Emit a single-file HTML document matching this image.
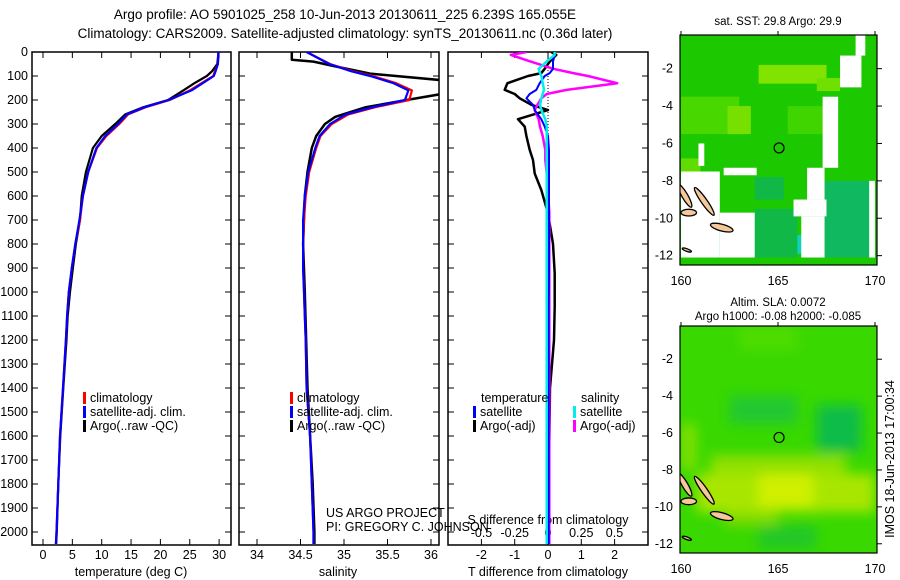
<!DOCTYPE html>
<html><head><meta charset="utf-8"><style>
body{margin:0;background:#fff;width:900px;height:580px;overflow:hidden}
svg{display:block;font-family:"Liberation Sans",sans-serif}
text{fill:#000}
</style></head><body>
<svg id="fig" width="900" height="580" viewBox="0 0 900 580">
<text x="345" y="19" font-size="13.5" text-anchor="middle">Argo profile: AO 5901025_258 10-Jun-2013 20130611_225 6.239S 165.055E</text>
<text x="345" y="38" font-size="13.5" text-anchor="middle">Climatology: CARS2009. Satellite-adjusted climatology: synTS_20130611.nc (0.36d later)</text>
<defs><filter id="blur" x="-5%" y="-5%" width="110%" height="110%"><feGaussianBlur stdDeviation="6"/></filter></defs>
<g id="g"></g>
</svg>
<script>
// ---- data ----
const depthTicks=[0,100,200,300,400,500,600,700,800,900,1000,1100,1200,1300,1400,1500,1600,1700,1800,1900,2000];
const tempTicks=[0,5,10,15,20,25,30];
const salTicks=[34,34.5,35,35.5,36];
const tdiffTicks=[-2,-1,0,1,2];
const sdiffTicks=[-0.5,-0.25,0,0.25,0.5];
const sdiffTickLabels=["-0.5","-0.25","0","0.25","0.5"];
const latTicks=[-2,-4,-6,-8,-10,-12];
const lonTicks=[160,165,170];

const profDepth=[0,50,80,100,130,160,200,230,260,300,350,400,500,600,700,800,900,1000,1100,1200,1400,1600,1800,2000,2050];
const tempClim=[29.9,29.8,29.3,29,27,25,21.6,17.5,14.5,13,10.8,9.2,7.7,6.8,6.3,5.5,4.9,4.4,4.1,3.9,3.4,2.9,2.6,2.3,2.2];
const tempSat=[29.9,29.8,29.4,29.1,27.2,25.3,21.4,17.3,14.3,12.8,10.6,9.1,7.7,6.8,6.2,5.5,4.9,4.4,4.1,3.9,3.4,2.9,2.6,2.3,2.2];
const tempArgo=[29.9,29.7,28.8,27.9,25.8,23.9,21.3,17.1,14.0,12.3,10.0,8.5,7.3,6.6,6.3,5.6,5.1,4.6,4.2,4.0,3.45,2.95,2.6,2.35,2.25];
const salClim=[34.57,34.84,35.1,35.33,35.6,35.78,35.75,35.36,35.05,34.86,34.73,34.68,34.6,34.56,34.54,34.53,34.53,34.54,34.55,34.56,34.57,34.61,34.63,34.65,34.65];
const salSat=[34.57,34.83,35.08,35.3,35.57,35.74,35.7,35.33,35.02,34.84,34.72,34.67,34.59,34.55,34.53,34.53,34.53,34.54,34.55,34.56,34.57,34.61,34.63,34.65,34.65];
const argoSalDepth=[0,32,40,60,90,120,170,200,230,270,300,350,400,500,600,800,1000,1400,1600,1800,2000,2050];
const argoSal=[34.40,34.40,34.65,34.9,35.3,36.2,36.2,35.72,35.25,34.9,34.78,34.68,34.63,34.58,34.55,34.53,34.55,34.58,34.61,34.64,34.66,34.66];
const diffDepth=[0,12,40,70,88,100,130,158,175,193,220,242,280,311,350,408,450,506,575,672,800,922,1060,1200,1400,1500,1700,1900,2050];
const tdiffArgo=[0.1,0.25,0.05,-0.1,-0.2,-0.6,-1.22,-1.3,-1.0,-0.85,-0.5,0,-0.9,-0.7,-0.65,-0.55,-0.45,-0.4,-0.2,0,0.15,0.2,0.2,0.18,0.06,0.05,0.03,0.02,0.02];
const tdiffSat=[0.2,0.2,0.15,0.15,0.05,-0.1,-0.25,-0.35,-0.55,-0.65,-0.45,-0.4,-0.2,-0.1,0,0.03,0.03,0.03,0.03,0.03,0.03,0.03,0.02,0.02,0.02,0.02,0.02,0.02,0.02];
const sdiffArgo=[-0.16,-0.28,-0.13,0.04,0.19,0.3,0.52,0.14,-0.01,-0.05,-0.08,-0.1,-0.07,-0.06,-0.04,-0.02,-0.02,-0.01,0,0.01,0.01,0.01,0.01,0.01,0.01,0.01,0.01,0.01,0.01];
const sdiffSat=[0.05,0.05,-0.01,-0.07,-0.06,-0.05,-0.04,-0.03,-0.04,-0.05,-0.06,-0.05,-0.02,-0.01,-0.01,-0.01,-0.01,-0.01,-0.01,-0.01,-0.01,-0.01,-0.01,-0.01,-0.01,-0.01,-0.01,-0.01,-0.01];

const NS="http://www.w3.org/2000/svg";
const G=document.getElementById('g');
function mk(tag,attrs,parent){const e=document.createElementNS(NS,tag);for(const k in attrs)e.setAttribute(k,attrs[k]);(parent||G).appendChild(e);return e;}
function txt(s,x,y,anchor,size,parent){const t=mk('text',{x:x,y:y,'text-anchor':anchor||'middle','font-size':size||12.5},parent);t.textContent=s;return t;}

const TOP=52,PB=545;
const yD=d=>TOP+d*0.24;
const panels=[
 {name:'temperature',x0:32,x1:231,f:v=>43+v*5.87},
 {name:'salinity',x0:239,x1:439,f:v=>257+(v-34)*87},
 {name:'difference',x0:448,x1:648,f:v=>548+v*33.3}
];
const sx=v=>548+v*133;

panels.forEach((p,i)=>{
  const r=mk('rect',{x:p.x0,y:TOP,width:p.x1-p.x0,height:PB-TOP,fill:'none',stroke:'#000','stroke-width':1.5});
  
  
  depthTicks.forEach(d=>{
    const y=yD(d);
    const t1=mk('line',{x1:p.x0,x2:p.x0+6,y1:y,y2:y,stroke:'#000'});
    
    
    const t2=mk('line',{x1:p.x1-6,x2:p.x1,y1:y,y2:y,stroke:'#000'});
    
    
    if(i===0){const l=txt(String(d),28,y+4,'end',12.5);
      
      }
  });
});
function xticks(vals,labels,f,ylab,name,topTicks){
  vals.forEach((v,k)=>{
    const x=f(v);
    const a=mk('line',{x1:x,x2:x,y1:PB,y2:PB-6,stroke:'#000'});
    
    
    if(topTicks){const b=mk('line',{x1:x,x2:x,y1:TOP,y2:TOP+6,stroke:'#000'});
      
      }
    const l=txt(labels?labels[k]:String(v),x,ylab,'middle',12.5);
    
    
  });
}
xticks(tempTicks,null,panels[0].f,559,'temperature',true);
xticks(salTicks,null,panels[1].f,559,'salinity',true);
xticks(tdiffTicks,null,panels[2].f,559,'t-difference',true);
sdiffTicks.forEach((v,k)=>{
  const l=txt(sdiffTickLabels[k],sx(v),537,'middle',12.5);
  
  
});
[['temperature (deg C)',131,'temperature-axis-title'],['salinity',338,'salinity-axis-title'],['T difference from climatology',548,'t-difference-axis-title']].forEach(a=>{
  const l=txt(a[0],a[1],576,'middle',12.5);
  
  
});
{const l=txt('S difference from climatology',548,524,'middle',12.5);
 
 }

const defs=document.querySelector('defs');
panels.forEach((p,i)=>{const c=mk('clipPath',{id:'c'+i},defs);mk('rect',{x:p.x0,y:TOP,width:p.x1-p.x0,height:PB-TOP},c);});

function line(depths,vals,f,color,w,clip,name){
  const pts=depths.map((d,k)=>f(vals[k]).toFixed(1)+','+yD(d).toFixed(1)).join(' ');
  const pl=mk('polyline',{points:pts,fill:'none',stroke:color,'stroke-width':w,'clip-path':'url(#c'+clip+')','stroke-linejoin':'round'});
  
  
}
line(profDepth,tempArgo,panels[0].f,'#000',2.2,0,'temperature-argo-line');
line(profDepth,tempClim,panels[0].f,'#f00',2.2,0,'temperature-climatology-line');
line(profDepth,tempSat,panels[0].f,'#00f',2.2,0,'temperature-satellite-line');
line(argoSalDepth,argoSal,panels[1].f,'#000',2.5,1,'salinity-argo-line');
line(profDepth,salClim,panels[1].f,'#f00',2.2,1,'salinity-climatology-line');
line(profDepth,salSat,panels[1].f,'#00f',2.2,1,'salinity-satellite-line');
{const z=mk('line',{x1:548,x2:548,y1:TOP,y2:yD(380),stroke:'#000','stroke-dasharray':'1,2'});
 
 }
line(diffDepth,tdiffArgo,panels[2].f,'#000',2.5,2,'t-difference-argo-line');
line(diffDepth,sdiffArgo,sx,'#f0f',2.5,2,'s-difference-argo-line');
line(diffDepth,tdiffSat,panels[2].f,'#00f',2,2,'t-difference-satellite-line');
line(diffDepth,sdiffSat,sx,'#0ee',2.5,2,'s-difference-satellite-line');

function leg(x,y,color,label,name){
  const r=mk('rect',{x:x,y:y-10,width:3,height:12,fill:color});
  
  
  const t=txt(label,x+7,y,'start',12.5);
  
  
}
[[32,0],[239,1]].forEach(a=>{const x=a[0]+51;
  leg(x,402,'#f00','climatology','legend-climatology');
  leg(x,416,'#00f','satellite-adj. clim.','legend-satellite-adj');
  leg(x,430,'#000','Argo(..raw -QC)','legend-argo');});
{const t=txt('temperature',481,402,'start',12.5);}
{const t=txt('salinity',581,402,'start',12.5);}
leg(473,416,'#00f','satellite','legend-t-satellite');
leg(473,430,'#000','Argo(-adj)','legend-t-argo');
leg(573,416,'#0ee','satellite','legend-s-satellite');
leg(573,430,'#f0f','Argo(-adj)','legend-s-argo');
{const t=txt('US ARGO PROJECT',326,517,'start',12.5);}
{const t=txt('PI: GREGORY C. JOHNSON',326,531,'start',12.5);}

// ---- maps ----
function map(top,bottom,title1,title2,kind){
  const X0=680,X1=877;
  const lx=v=>681+(v-160)*19.4;
  const ly=v=>top+(bottom-top)*((-v-0.2)/12.3);
  const cp=mk('clipPath',{id:'m'+kind},defs);mk('rect',{x:X0,y:top,width:X1-X0,height:bottom-top},cp);
  const grp=mk('g',{'clip-path':'url(#m'+kind+')'});
  
  
  const bg=mk('rect',{x:X0,y:top,width:X1-X0,height:bottom-top,fill:kind==='sst'?'#1cc800':'#38d800'},grp);
  
  
  const soft=mk('g',kind==='sla'?{filter:'url(#blur)'}:{},grp);
  const cell=(a,b,c,d,col,nm,par)=>{const r=mk('rect',{x:lx(a),y:ly(b),width:lx(c)-lx(a),height:ly(d)-ly(b),fill:col},par||grp);
    };
  if(kind==='sst'){
    cell(160,-3.5,163,-5.5,'#48d800','sst-warm-patch');
    cell(164,-1.8,167.5,-2.8,'#80e400','sst-warm-patch');
    cell(167,-2.5,168.2,-3.2,'#70e000','sst-warm-patch');
    cell(162.4,-4,163.6,-5.5,'#78e000','sst-warm-patch');
    cell(165.5,-4,168,-5.5,'#40d400','sst-warm-patch');
    cell(160,-6.8,161,-7.5,'#60dc00','sst-warm-patch');
    cell(163.8,-7.8,165.3,-9,'#10b848','sst-cool-patch');
    cell(163.8,-9.5,166,-12.1,'#10b848','sst-cool-patch');
    cell(162.6,-10.3,163.8,-12.1,'#10b870','sst-cool-patch');
    cell(167.4,-8,169.7,-12.1,'#10b860','sst-cool-patch');
    cell(166,-10.9,167,-11.9,'#10d0c0','sst-cyan-patch');
    cell(161,-11.8,162.2,-12.1,'#10b8e8','sst-cyan-patch');
    cell(169,-0.2,169.5,-1.3,'#fff','sst-missing');
    cell(168.2,-1.3,169.3,-3,'#fff','sst-missing');
    cell(167.3,-3.5,168.1,-7.3,'#fff','sst-missing');
    cell(166.5,-7.3,167.4,-9,'#fff','sst-missing');
    cell(160,-7.5,162,-12.1,'#fff','sst-missing');
    cell(162,-9.7,163.8,-12.1,'#fff','sst-missing');
    cell(162.2,-7.3,163.9,-7.7,'#fff','sst-missing');
    cell(165.8,-9,167.5,-9.9,'#fff','sst-missing');
    cell(166.2,-9.9,167.4,-12.1,'#fff','sst-missing');
    cell(169.7,-8,170,-12.1,'#fff','sst-missing');
    cell(160.9,-6,161.2,-7.2,'#fff','sst-missing');
  } else {
    cell(161.5,-7.2,168.5,-8.2,'#90e000','sla-yellow-band',soft);
    cell(160.8,-8.2,170,-10.3,'#a8e600','sla-yellow-band',soft);
    cell(164,-8.2,166.8,-10,'#d0f000','sla-yellow-core',soft);
    cell(162.2,-10.3,165,-11,'#80dc00','sla-yellow-band',soft);
    cell(160,-5.5,160.8,-8,'#80e000','sla-yellow-band',soft);
    cell(167,-4.5,169.3,-7,'#10bc48','sla-low-patch',soft);
    cell(162.5,-4,166,-5.5,'#20c830','sla-low-patch',soft);
    cell(164,-11,167,-12.3,'#20c828','sla-low-patch',soft);
    cell(163,-0.2,166,-1.5,'#50dc00','sla-high-patch',soft);
  }
  [[160.2,-8.8,0.15,0.7,-30],[161.2,-9.1,0.15,0.9,-35],[160.4,-9.7,0.4,0.18,0],[162.1,-10.5,0.6,0.18,15],[160.3,-11.7,0.25,0.07,20]].forEach(L=>{
    const e=mk('ellipse',{cx:lx(L[0]),cy:ly(L[1]),rx:L[2]*19.4,ry:L[3]*18.7,fill:'#f5c89a',stroke:'#000','stroke-width':1.3,transform:'rotate('+L[4]+' '+lx(L[0])+' '+ly(L[1])+')'},grp);
    
    
  });
  const f=mk('rect',{x:X0,y:top,width:X1-X0,height:bottom-top,fill:'none',stroke:'#000','stroke-width':1.2});
  
  
  const c=mk('circle',{cx:lx(165.055),cy:ly(-6.239),r:5,fill:'none',stroke:'#000','stroke-width':1.2});
  
  
  latTicks.forEach(v=>{
    const y=ly(v);
    const l=txt(String(v),673,y+4,'end',12.5);
    
    
    const t=mk('line',{x1:X1,x2:X1+5,y1:y,y2:y,stroke:'#000'});
    
    
  });
  lonTicks.forEach(v=>{
    const x=lx(v);
    const l=txt(String(v),x,bottom+20,'middle',12.5);
    
    
    const t=mk('line',{x1:x,x2:x,y1:top-4,y2:top,stroke:'#000'});
    
    
  });
  const t1=txt(title1,778,title2?top-20:top-10,'middle',11.5);
  
  
  if(title2){const t2=txt(title2,778,top-6,'middle',11.5);
    
    }
}
map(35,265,'sat. SST: 29.8 Argo: 29.9',null,'sst');
map(326,553,'Altim. SLA: 0.0072','Argo h1000: -0.08 h2000: -0.085','sla');
{const t=txt('IMOS 18-Jun-2013 17:00:34',0,0,'middle',12.5);
 t.setAttribute('transform','translate(894,459) rotate(-90)');
 
 }
</script>
</body></html>
